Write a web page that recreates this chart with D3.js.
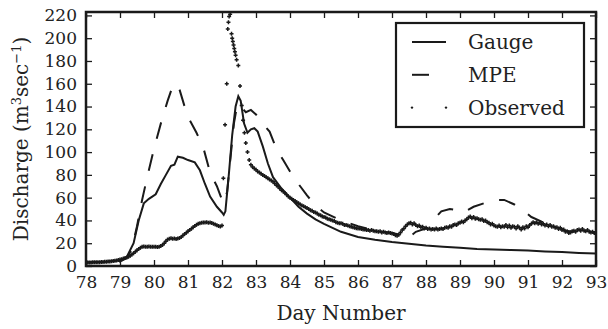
<!DOCTYPE html>
<html>
<head>
<meta charset="utf-8">
<script src="https://cdn.jsdelivr.net/npm/d3@7"></script>
<style>
  body { margin: 0; background: #fff; }
  svg { display: block; }
  text { font-family: 'DejaVu Serif', serif; fill: #222; }
</style>
</head>
<body>
<div id="chart"></div>
<script>
// ---- data ----
const xTicks = d3.range(78, 94, 1);
const yTicks = d3.range(0, 221, 20);

const gaugeDays = [78, 78.5, 79, 79.2, 79.4, 79.55, 79.7, 79.85, 80.05, 80.2, 80.35, 80.5, 80.6, 80.7,
  80.85, 81.0, 81.2, 81.35, 81.5, 81.65, 81.85, 82.0, 82.05, 82.1, 82.2, 82.3, 82.4, 82.48, 82.55,
  82.65, 82.75, 82.85, 82.95, 83.05, 83.2, 83.35, 83.5, 83.75, 84, 84.25, 84.5, 84.75, 85, 85.5,
  86, 86.5, 87, 87.5, 88, 88.5, 89, 89.5, 90, 90.5, 91, 91.5, 92, 92.5, 93];
const gauge = [3, 3.5, 5, 8, 20, 40, 55, 59, 63, 72, 80, 88, 89, 96,
  95, 93, 91, 84, 72, 61, 52, 47, 45, 48, 80, 115, 140, 149, 145,
  125, 117, 120, 121, 118, 105, 90, 78, 68, 60, 52, 46, 41, 37, 30,
  25.5, 23, 21, 19.5, 18, 17, 16, 15, 14.5, 14, 13.5, 12.8, 12.2, 11.5, 11];

const mpeDays = [78, 78.5, 79, 79.2, 79.35, 79.5, 79.65, 79.8, 80.0, 80.2, 80.4, 80.55, 80.65, 80.75,
  80.9, 81.05, 81.25, 81.45, 81.65, 81.85, 82.0, 82.05, 82.15, 82.25, 82.35, 82.45, 82.55, 82.7,
  82.85, 83.0, 83.2, 83.4, 83.6, 83.8, 84.0, 84.25, 84.5, 84.75, 85.0, 85.5, 86.0, 86.5, 87.0,
  87.3, 87.45, 87.7, 88.0, 88.2, 88.45, 88.7, 88.9, 89.1, 89.4, 89.7, 90.0, 90.3, 90.6, 90.85,
  91.1, 91.4, 91.8, 92.1, 92.4, 92.7, 93];
const mpe = [3, 3.5, 4, 7, 15, 35, 58, 78, 103, 125, 145, 158, 160, 155,
  140, 128, 117, 104, 82, 70, 58, 55, 65, 95, 125, 142, 140, 135,
  137, 133, 125, 118, 103, 93, 83, 72, 62, 53, 47, 40, 35, 31, 29,
  27, 24, 30, 33, 40, 48, 50, 49, 47, 52, 55, 58, 58, 54, 49,
  43, 39, 35, 31, 30, 32, 28];

// observed: sampled every 0.05 day, before and after the flood peak
const obsStep = 0.05;
const obsStartA = 78;
const obsA = [3.0, 3.0, 3.1, 3.1, 3.2, 3.2, 3.3, 3.4, 3.4, 3.5, 3.6, 3.7, 3.8, 3.9, 4.0, 4.2, 4.4, 4.6, 4.9, 5.2,
  5.6, 6.0, 6.5, 7.0, 7.5, 8.2, 9.0, 10.0, 11.2, 12.5, 13.8, 15.0, 16.0, 16.8, 17.2, 17.0, 16.8, 17.1, 16.9, 16.8,
  16.8, 16.9, 16.7, 17.0, 17.5, 18.5, 20.0, 21.8, 23.2, 24.0, 24.3, 23.9, 24.2, 23.8, 24.1, 24.5, 25.5, 26.8, 28.0, 29.3,
  30.5, 31.6, 32.8, 34.0, 35.2, 36.2, 37.0, 37.6, 38.0, 38.2, 38.1, 38.4, 38.0, 38.3, 37.8, 37.2, 36.5, 35.8, 35.2, 34.6, 35.5];
const obsPeakDays = [82.04, 82.09, 82.14, 82.17, 82.19, 82.21, 82.24, 82.28, 82.30, 82.32, 82.34, 82.36,
  82.38, 82.40, 82.43, 82.48, 82.53, 82.58, 82.62, 82.66];
const obsPeak = [77, 124, 160, 208, 214, 219, 221, 204, 200, 197, 194, 191, 188, 185, 181, 176, 158, 141, 128, 117];
const obsStartC = 82.70;
const obsC = [108, 100, 93, 89, 87, 85.5,
  84.5, 83, 82, 81, 80, 79, 78, 77, 76, 75, 74, 72.5, 71, 69.5, 68, 66.5, 65.5, 64, 62.5, 61,
  60, 59, 58, 57, 56, 55, 54, 53.2, 52.5, 51.5, 51, 50, 49, 48.5, 47.5, 47, 46, 45, 44.5, 43.5,
  43, 42.5, 41.5, 41, 40.5, 40, 39.5, 38.5, 38, 37.5, 37.5, 37, 36, 36, 35.5, 35, 34.5, 34, 33.5, 33.2,
  33, 33, 32.5, 32, 32, 31.5, 31.5, 31, 31.5, 31, 30.5, 30.5, 30, 30.5, 29.5, 30, 29.5, 29, 29.5, 29,
  28.5, 28, 27, 26.5, 27.5, 29.5, 31.5, 33, 35, 36.5, 37.5, 38, 36.5, 37.5, 36, 35, 35.5, 34, 34.5, 33,
  33.5, 32.5, 33, 32, 32.5, 32, 33, 32, 32.5, 33, 32.5, 33.5, 34, 33.5, 35, 34.5, 36, 36.5, 36, 37.5,
  38, 39, 38.5, 40, 41, 42.5, 43.5, 42, 43, 41.5, 42, 41, 40.5, 41, 39.5, 40, 38.5, 38, 36.5, 37,
  35.5, 35, 34.5, 35.5, 34, 35, 34.5, 36, 34, 35.5, 33.5, 35, 34.5, 33, 35, 33.5, 32, 34, 33, 35,
  34, 36, 37, 38.5, 37.5, 38.5, 37, 38, 36.5, 37, 35.5, 36.5, 35, 36, 34.5, 35, 33.5, 34, 32.5, 33.5,
  31.5, 32, 30, 30.5, 29, 29.5, 30.5, 31, 30, 31.5, 32, 31, 32.5, 31, 30.5, 31.5, 30, 29.5, 30, 29, 28.5];

const legendItems = ['Gauge', 'MPE', 'Observed'];

// ---- layout ----
const W = 608, H = 329;
const margin = { top: 12, right: 12, bottom: 63, left: 86 };
const width = W - margin.left - margin.right;
const height = H - margin.top - margin.bottom;
const ink = '#1a1a1a';

const svg = d3.select('#chart').append('svg')
  .attr('width', W)
  .attr('height', H);

const g = svg.append('g')
  .attr('transform', `translate(${margin.left},${margin.top})`);

const x = d3.scaleLinear().domain([78, 93]).range([0, width]);
const y = d3.scaleLinear().domain([0, 223]).range([height, 0]);

// axes, ticks pointing inward
const styleAxis = (sel) => {
  sel.select('.domain').remove();
  sel.selectAll('.tick line').attr('stroke', ink).attr('stroke-width', 1.3);
  sel.selectAll('.tick text').style('font-size', '17px').attr('fill', '#222');
};

g.append('g')
  .attr('transform', `translate(0,${height})`)
  .call(d3.axisBottom(x).tickValues(xTicks).tickFormat(d3.format('d')).tickSize(-6).tickPadding(10))
  .call(styleAxis);
g.append('g')
  .call(d3.axisTop(x).tickValues(xTicks).tickFormat('').tickSize(-6))
  .call(styleAxis);
g.append('g')
  .call(d3.axisLeft(y).tickValues(yTicks).tickFormat(d3.format('d')).tickSize(-6).tickPadding(9))
  .call(styleAxis);
g.append('g')
  .attr('transform', `translate(${width},0)`)
  .call(d3.axisRight(y).tickValues(yTicks).tickFormat('').tickSize(-6))
  .call(styleAxis);

// clip
svg.append('defs').append('clipPath').attr('id', 'plot-clip')
  .append('rect').attr('width', width).attr('height', height);
const plot = g.append('g').attr('clip-path', 'url(#plot-clip)');

const line = d3.line().x(d => x(d[0])).y(d => y(d[1]));

plot.append('path')
  .datum(gaugeDays.map((d, i) => [d, gauge[i]]))
  .attr('d', line)
  .attr('fill', 'none')
  .attr('stroke', ink)
  .attr('stroke-width', 2);

plot.append('path')
  .datum(mpeDays.map((d, i) => [d, mpe[i]]))
  .attr('d', line)
  .attr('fill', 'none')
  .attr('stroke', ink)
  .attr('stroke-width', 2)
  .attr('stroke-dasharray', '17,16');

const observed = [].concat(
  obsA.map((v, i) => [obsStartA + i * obsStep, v]),
  obsPeakDays.map((d, i) => [d, obsPeak[i]]),
  obsC.map((v, i) => [obsStartC + i * obsStep, v])
);

const plus = (sel, s) => sel.append('path')
  .attr('d', `M${-s},0H${s}M0,${-s}V${s}`)
  .attr('stroke', ink)
  .attr('stroke-width', 1.5);

plot.append('g')
  .selectAll('g')
  .data(observed)
  .join('g')
  .attr('transform', d => `translate(${x(d[0])},${y(d[1])})`)
  .call(plus, 2);

// frame
g.append('rect')
  .attr('width', width)
  .attr('height', height)
  .attr('fill', 'none')
  .attr('stroke', ink)
  .attr('stroke-width', 2.5);

// axis labels
svg.append('text')
  .attr('x', margin.left + width / 2)
  .attr('y', 320)
  .attr('text-anchor', 'middle')
  .style('font-size', '20px')
  .text('Day Number');

const ylab = svg.append('text')
  .attr('transform', `translate(28,${margin.top + height / 2}) rotate(-90)`)
  .attr('text-anchor', 'middle')
  .style('font-size', '20px');
ylab.append('tspan').text('Discharge (m');
ylab.append('tspan').attr('dy', -7).style('font-size', '13px').text('3');
ylab.append('tspan').attr('dy', 7).text('sec');
ylab.append('tspan').attr('dy', -7).style('font-size', '13px').text('\u22121');
ylab.append('tspan').attr('dy', 7).text(')');

// legend
const legend = svg.append('g').attr('transform', 'translate(396,23)');
legend.append('rect')
  .attr('width', 188)
  .attr('height', 104)
  .attr('fill', '#fff')
  .attr('stroke', ink)
  .attr('stroke-width', 2.2);

const rows = legend.selectAll('g.row')
  .data(legendItems)
  .join('g')
  .attr('class', 'row')
  .attr('transform', (d, i) => `translate(0,${19 + i * 32.8})`);

rows.filter((d, i) => i < 2).append('line')
  .attr('x1', 16)
  .attr('x2', 50)
  .attr('stroke', ink)
  .attr('stroke-width', 2)
  .attr('stroke-dasharray', (d, i) => (i === 1 ? '17,17' : null));

rows.filter((d, i) => i === 2).selectAll('circle')
  .data([16, 50])
  .join('circle')
  .attr('cx', d => d)
  .attr('r', 1.2)
  .attr('fill', ink);

rows.append('text')
  .attr('x', 72)
  .attr('y', 7)
  .style('font-size', '20px')
  .text(d => d);
</script>
</body>
</html>
